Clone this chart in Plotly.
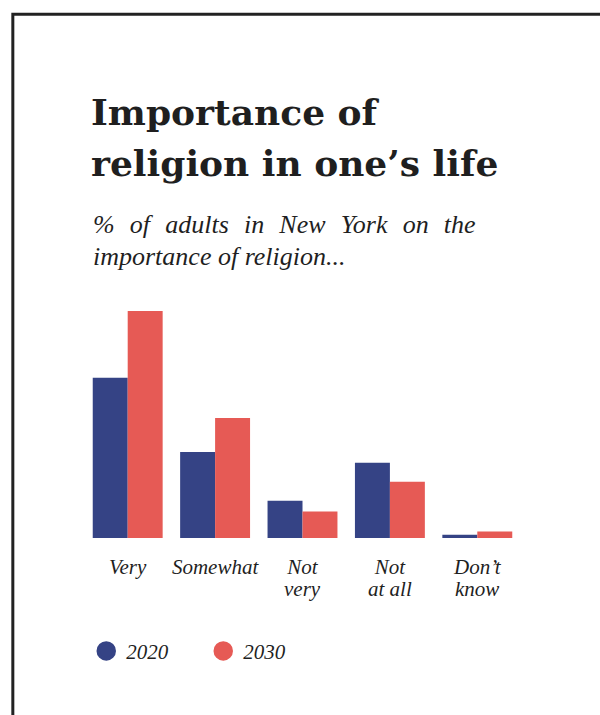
import plotly.graph_objects as go

# Share of adults saying religion is ... important in their life (%)
categories = ["Very", "Somewhat", "Not very", "Not at all", "Don't know"]
label_line1 = ["Very", "Somewhat", "Not", "Not", "Don’t"]
label_line2 = ["", "", "very", "at all", "know"]
series_2020 = [33.9, 18.2, 7.9, 15.9, 0.7]
series_2030 = [48.0, 25.4, 5.6, 11.9, 1.4]

COLOR_2020 = "#354385"
COLOR_2030 = "#E65A55"
INK = "#1f1f1f"

W, H = 600, 715
M_L, M_R, M_T, M_B = 83.75, 78.75, 311, 176.5
PLOT_W = W - M_L - M_R
PLOT_H = H - M_T - M_B


def px_x(px):
    """Convert a page x (pixels) to paper coordinates."""
    return (px - M_L) / PLOT_W


def px_y(py):
    """Convert a page y (pixels from top) to paper coordinates."""
    return (H - M_B - py) / PLOT_H


fig = go.Figure()
fig.add_trace(go.Bar(x=categories, y=series_2020, name="2020",
                     marker=dict(color=COLOR_2020, line_width=0), showlegend=False))
fig.add_trace(go.Bar(x=categories, y=series_2030, name="2030",
                     marker=dict(color=COLOR_2030, line_width=0), showlegend=False))

# Circle swatches for the legend
for name, color in (("2020", COLOR_2020), ("2030", COLOR_2030)):
    fig.add_trace(go.Scatter(x=[None], y=[None], mode="markers", name=name,
                             marker=dict(symbol="circle", size=16, color=color,
                                         line=dict(color=color, width=3.5))))

serif = "Liberation Serif"
title_font = dict(family="DejaVu Serif", size=36, color=INK)
sub_font = dict(family=serif, size=26, color=INK)
label_font = dict(family=serif, size=21, color=INK, style="italic")

gap = " \u2004"
annotations = [
    dict(text="<b>Importance of</b>", x=px_x(90), y=px_y(134), xanchor="left",
         yanchor="bottom", font=title_font),
    dict(text="<b>religion in one’s life</b>", x=px_x(90), y=px_y(185), xanchor="left",
         yanchor="bottom", font=title_font),
    dict(text="<i>" + gap.join(["%", "of", "adults", "in", "New", "York", "on", "the"]) + "</i>",
         x=px_x(92), y=px_y(240), xanchor="left", yanchor="bottom", font=sub_font),
    dict(text="<i>importance of religion...</i>", x=px_x(92), y=px_y(272), xanchor="left",
         yanchor="bottom", font=sub_font),
]
for a in annotations:
    a.update(xref="paper", yref="paper", showarrow=False, borderpad=0)

# Second line of the category labels, set tighter than the default line height
for cat, txt in zip(categories, label_line2):
    if txt:
        annotations.append(dict(text=txt, x=cat, xref="x", y=px_y(603), yref="paper",
                                xanchor="center", yanchor="bottom", showarrow=False,
                                borderpad=0, font=label_font))

fig.update_layout(
    width=W, height=H,
    margin=dict(l=M_L, r=M_R, t=M_T, b=M_B, pad=0),
    paper_bgcolor="white", plot_bgcolor="white",
    barmode="group", bargap=0.2, bargroupgap=0,
    xaxis=dict(type="category", tickmode="array", tickvals=categories, ticktext=label_line1,
               showgrid=False, zeroline=False, showline=False, ticks="",
               tickfont=label_font, ticklabelstandoff=14, fixedrange=True),
    yaxis=dict(range=[0, 48], visible=False, fixedrange=True),
    legend=dict(orientation="h", x=px_x(86), y=px_y(652), xanchor="left", yanchor="middle",
                font=dict(family=serif, size=21, color=INK, style="italic"),
                entrywidth=72, entrywidthmode="pixels", itemwidth=30,
                bgcolor="rgba(0,0,0,0)"),
    annotations=annotations,
    shapes=[dict(type="rect", xref="paper", yref="paper",
                 x0=px_x(12.5), x1=px_x(640), y0=px_y(13.5), y1=px_y(760),
                 line=dict(color="#222222", width=3), fillcolor="rgba(0,0,0,0)", layer="below")],
    showlegend=True,
)

fig.write_html("out.html", config={"displayModeBar": False})
